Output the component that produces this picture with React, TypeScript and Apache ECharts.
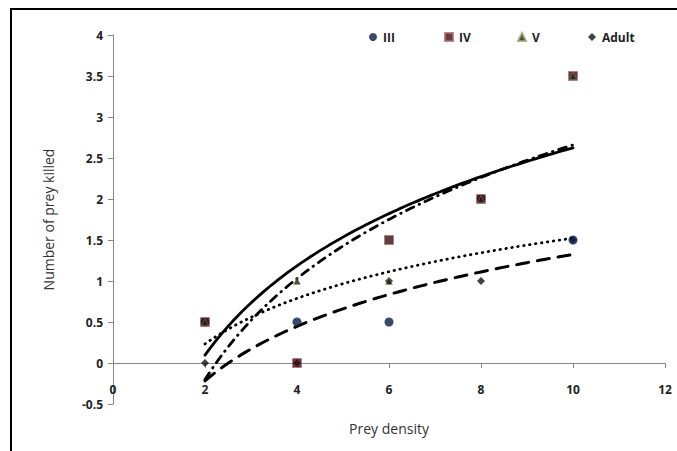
import React, { useEffect, useRef } from "react";
import * as echarts from "echarts";

const preyDensity = [2, 4, 6, 8, 10];
const stageIII = [0.5, 0.5, 0.5, 2, 1.5];
const stageIV = [0.5, 0, 1.5, 2, 3.5];
const stageV = [0.5, 1, 1, 2, 3.5];
const stageAdult = [0, 0, 1, 1, 1.5];

const legendNames = ["III", "IV", "V", "Adult"];
const xTicks = { min: 0, max: 12, interval: 2 };
const yTicks = { min: -0.5, max: 4, interval: 0.5 };

function logFit(xs: number[], ys: number[]) {
  const lx = xs.map((x) => Math.log(x));
  const n = xs.length;
  const mx = lx.reduce((a, b) => a + b, 0) / n;
  const my = ys.reduce((a, b) => a + b, 0) / n;
  let sxx = 0;
  let sxy = 0;
  for (let i = 0; i < n; i++) {
    sxx += (lx[i] - mx) ** 2;
    sxy += (lx[i] - mx) * (ys[i] - my);
  }
  const a = sxy / sxx;
  const b = my - a * mx;
  const x0 = xs[0];
  const x1 = xs[n - 1];
  const pts: number[][] = [];
  const steps = 80;
  for (let i = 0; i <= steps; i++) {
    const x = x0 + ((x1 - x0) * i) / steps;
    pts.push([x, a * Math.log(x) + b]);
  }
  return pts;
}

const pairs = (ys: number[]) => preyDensity.map((x, i) => [x, ys[i]]);

export default function App() {
  const ref = useRef<HTMLDivElement>(null);
  useEffect(() => {
    if (!ref.current) return;
    const chart = echarts.init(ref.current, null, { renderer: "svg" });
    const tickFont = {
      fontFamily: "Open Sans",
      fontWeight: "bold" as const,
      fontSize: 12,
      color: "#222",
    };
    const trend = (name: string, ys: number[], type: any, width: number) => ({
      name: name + " trend",
      type: "line",
      data: logFit(preyDensity, ys),
      showSymbol: false,
      symbol: "none",
      lineStyle: { color: "#000", width, type, cap: "round" },
      z: 1,
      silent: true,
    });
    const legendLefts = [369, 444, 517, 588];
    chart.setOption({
      animation: false,
      backgroundColor: "#fff",
      graphic: [
        {
          type: "rect",
          shape: { x: 11, y: 9, width: 700, height: 500 },
          style: { fill: "none", stroke: "#000", lineWidth: 2 },
          silent: true,
        },
      ],
      grid: { left: 113, right: 12, top: 35, bottom: 47, outerBoundsMode: "none", containLabel: false },
      legend: legendNames.map((nm, i) => ({
        data: [nm],
        left: legendLefts[i],
        top: 31,
        padding: 0,
        itemWidth: 8,
        itemHeight: 8,
        textStyle: { ...tickFont, fontSize: 12, padding: [0, 0, 0, 1] },
      })),
      xAxis: {
        type: "value",
        ...xTicks,
        name: "Prey density",
        nameLocation: "middle",
        nameGap: 17,
        nameTextStyle: {
          fontFamily: "Open Sans",
          fontSize: 14,
          color: "#333",
        },
        axisLine: { onZero: true, lineStyle: { color: "#888", width: 1 } },
        axisTick: { show: true, inside: false, length: 5, lineStyle: { color: "#888" } },
        axisLabel: { ...tickFont, margin: -21 },
        splitLine: { show: false },
      },
      yAxis: {
        type: "value",
        ...yTicks,
        name: "Number of prey killed",
        nameLocation: "middle",
        nameGap: 58,
        nameTextStyle: { fontFamily: "Open Sans", fontSize: 14, color: "#333" },
        axisLine: { show: true, onZero: false, lineStyle: { color: "#888", width: 1 } },
        axisTick: { show: true, inside: false, length: 5, lineStyle: { color: "#888" } },
        axisLabel: {
          ...tickFont,
          margin: 10,
          formatter: (v: number) => String(Math.round(v * 10) / 10),
        },
        splitLine: { show: false },
      },
      series: [
        trend("V", stageV, "solid", 2.8),
        trend("IV", stageIV, [8, 6, 0.5, 6], 2.8),
        trend("III", stageIII, [0.5, 5.5], 2.8),
        trend("Adult", stageAdult, [12, 9], 3),
        {
          name: "Adult",
          type: "scatter",
          data: pairs(stageAdult),
          symbol: "diamond",
          symbolSize: 8,
          itemStyle: { color: "#111" },
          z: 3,
        },
        {
          name: "III",
          type: "scatter",
          data: pairs(stageIII),
          symbol: "circle",
          symbolSize: 9,
          itemStyle: { color: "#0b1c48" },
          z: 4,
        },
        {
          name: "IV",
          type: "scatter",
          data: pairs(stageIV),
          symbol: "rect",
          symbolSize: 9,
          itemStyle: { color: "#3a0d1a", borderColor: "#b06a6a", borderWidth: 0.8 },
          z: 5,
        },
        {
          name: "V",
          type: "scatter",
          data: pairs(stageV),
          symbol: "triangle",
          symbolSize: 7,
          itemStyle: { color: "#1f2410", borderColor: "#9aa76a", borderWidth: 0.5 },
          z: 6,
        },
      ],
    });
    return () => chart.dispose();
  }, []);
  return <div ref={ref} style={{ width: 677, height: 451, position: "absolute", left: 0, top: 0 }} />;
}
